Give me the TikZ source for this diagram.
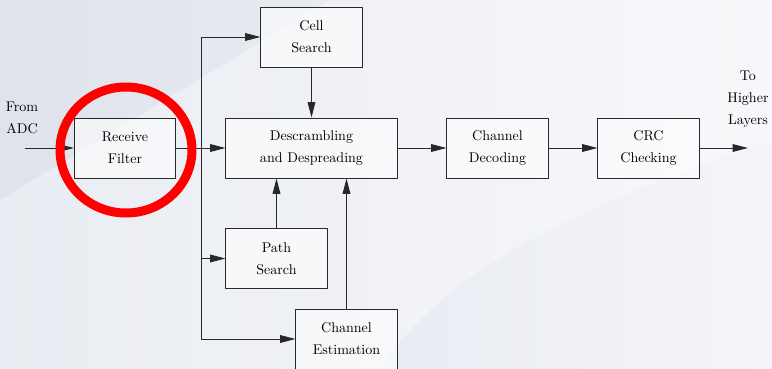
\documentclass[tikz,border=0pt]{standalone}
\usetikzlibrary{arrows.meta,positioning}
\definecolor{bgcol}{RGB}{222,227,236}
\definecolor{bglight}{RGB}{244,245,249}
\definecolor{linecol}{RGB}{40,40,40}
\tikzset{
  blk/.style={draw=linecol, line width=0.7pt, fill=white, fill opacity=0.55, text opacity=1,
    minimum width=2.525cm, minimum height=1.5cm, align=center, inner sep=0pt,
    font={\normalsize\baselineskip=15.5pt}},
  wideblk/.style={blk, minimum width=4.275cm},
  lbl/.style={align=center, font={\normalsize\baselineskip=15.5pt}},
  conn/.style={->, draw=linecol, line width=0.7pt}
}
\begin{document}
\begin{tikzpicture}[x=0.025cm, y=-0.025cm, >={Triangle[length=11pt,width=5.5pt]}, line join=round]
    \def\W{772} \def\H{369} % image size
    \def\busx{201}

    \useasboundingbox (0,0) rectangle (\W,\H);
    \shade[left color=bgcol, right color=bglight] (0,0) rectangle (\W,\H);
    \fill[white, opacity=0.35] (0,200) -- (330,0) -- (772,0) -- (772,140) .. controls (600,200) and (450,260) .. (380,369) -- (0,369) -- cycle;

    % blocks
    \node[blk] (filter) at (125,148) {Receive\\Filter};
    \node[wideblk] (descr) at (311.5,148) {Descrambling\\and Despreading};
    \node[blk] (cellsearch) at (311.5,37) {Cell\\Search};
    \node[blk] (pathsearch) at (276.5,258.5) {Path\\Search};
    \node[blk] (chanest) at (346.5,339) {Channel\\Estimation};
    \node[blk] (chandec) at (497.5,148) {Channel\\Decoding};
    \node[blk] (crc) at (648.5,148) {CRC\\Checking};

    \node[lbl] (from) at (22,118) {From\\ADC};
    \node[lbl] (to) at (748,99) {To\\Higher\\Layers};

    \coordinate (in) at (25,148);
    \coordinate (out) at (748,148);
    \coordinate (bus) at (\busx,148);

    % connections
    \draw[conn] (in) -- (filter);
    \draw[conn] (filter) -- (descr);
    \draw[conn] (bus) |- (cellsearch.west);
    \draw[conn] (bus) |- (pathsearch.west);
    \draw[conn] (bus) |- (chanest.west);
    \draw[conn] (cellsearch) -- (descr);
    \draw[conn] (pathsearch.north) -- (pathsearch.north |- descr.south);
    \draw[conn] (chanest.north) -- (chanest.north |- descr.south);
    \draw[conn] (descr) -- (chandec);
    \draw[conn] (chandec) -- (crc);
    \draw[conn] (crc) -- (out);

    % highlight
    \draw[red, line width=6.4pt] (126,150) ellipse (66 and 63);
\end{tikzpicture}
\end{document}
